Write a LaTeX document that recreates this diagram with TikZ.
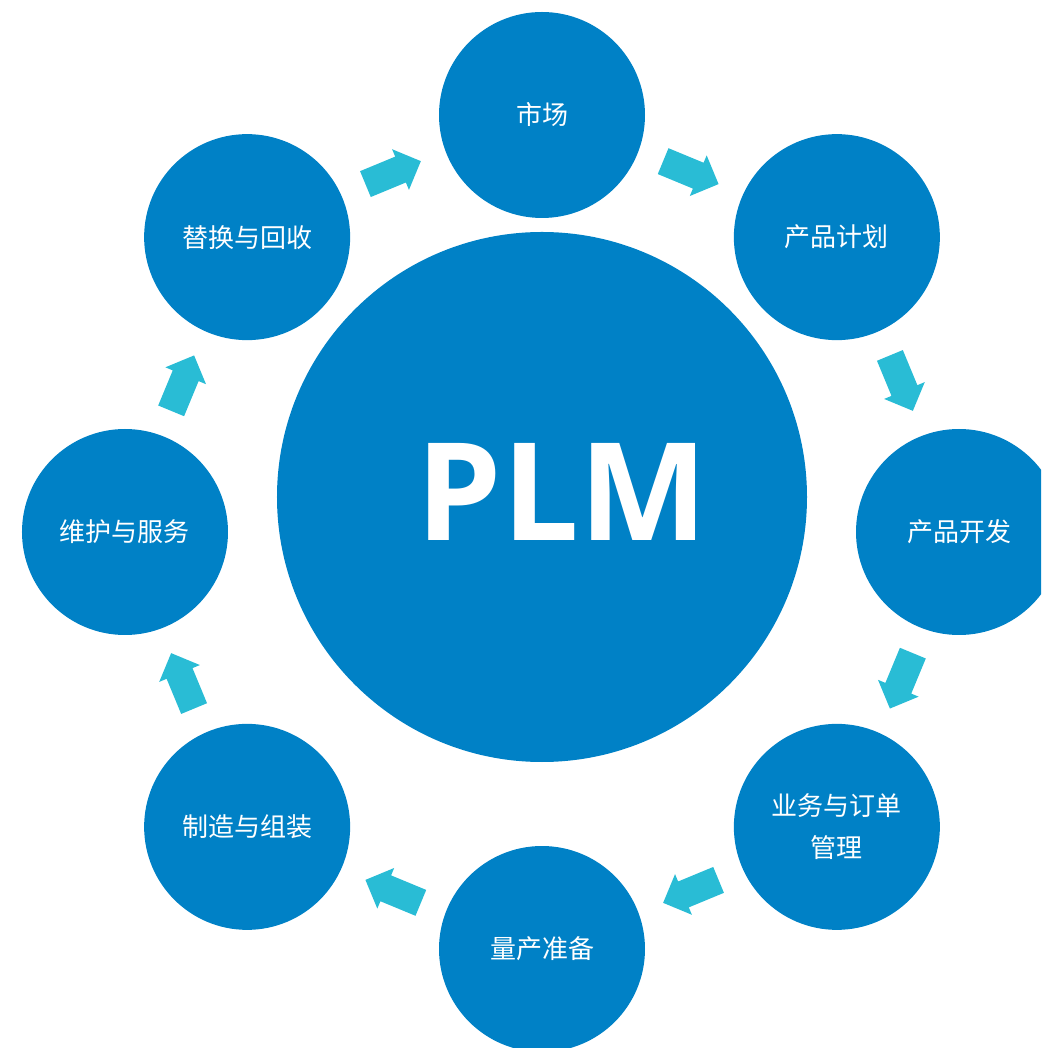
\documentclass[tikz,border=0pt]{standalone}
\usepackage{fontspec}
\newfontfamily\cjk{Noto Sans CJK SC}
\newfontfamily\plmfont{Open Sans}
\definecolor{plmblue}{RGB}{0,129,198}
\definecolor{arrowcyan}{RGB}{41,188,213}
\tikzset{
  sat/.style={circle, fill=plmblue, minimum size=206pt, inner sep=0pt, text=white,
    font=\cjk\fontsize{26}{42}\selectfont, align=center},
  hub/.style={circle, fill=plmblue, minimum size=530pt, inner sep=0pt},
  blockarrow/.pic={\fill[arrowcyan] (-30,-14) -- (8,-14) -- (8,-22) -- (30,0) -- (8,22) -- (8,14) -- (-30,14) -- cycle;}
}
\begin{document}
\begin{tikzpicture}[x=1pt,y=1pt]
\useasboundingbox (-542,-516) rectangle (499,532);
\clip (-542,-516) rectangle (499,532);
\node[hub] (plm) at (0,35) {};
\node[text=white, font=\plmfont\bfseries\fontsize{136}{136}\selectfont, inner sep=0pt] (plmtext) at (20,40) {PLM};
\node[sat] (s1) at (90:417) {市场};
\node[sat] (s2) at (45:417) {产品计划};
\node[sat] (s3) at (0:417) {产品开发};
\node[sat] (s4) at (-45:417) {业务与订单\\管理};
\node[sat] (s5) at (-90:417) {量产准备};
\node[sat] (s6) at (-135:417) {制造与组装};
\node[sat] (s7) at (180:417) {维护与服务};
\node[sat] (s8) at (135:417) {替换与回收};
\foreach \a in {112.5,67.5,22.5,-22.5,-67.5,-112.5,-157.5,157.5}{
  \pic[rotate=\a-90] at (\a:389) {blockarrow};
}
\end{tikzpicture}
\end{document}
